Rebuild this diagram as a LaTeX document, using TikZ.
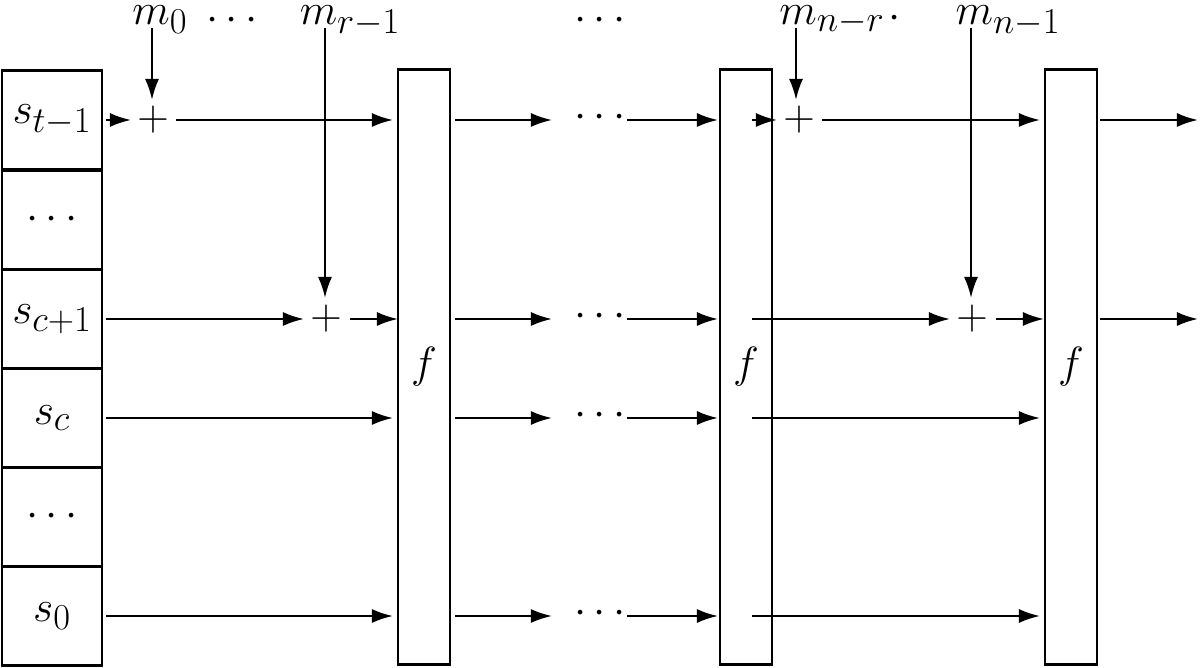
\documentclass[tikz,border=0pt]{standalone}
\usetikzlibrary{arrows.meta}
\begin{document}
\begin{tikzpicture}[x=0.02cm,y=-0.02cm,line width=1.3pt,
  font=\fontsize{31}{36}\selectfont,
  arr/.style={-{Latex[length=12pt,width=8pt]}},
  cell/.style={draw,minimum width=2cm,minimum height=1.986cm,inner sep=0pt,line width=1.5pt},
  fbox/.style={draw,minimum width=1.04cm,minimum height=11.9cm,inner sep=0pt,line width=1.3pt},
  lab/.style={anchor=base,inner sep=0pt},
  plus/.style={inner sep=0pt}]
\useasboundingbox (0,0) rectangle (1200,668);
\foreach \y/\n/\t in {120/s5/$s_{t-1}$,220/s4/$\cdots$,319/s3/$s_{c+1}$,418/s2/$s_c$,517/s1/$\cdots$,616/s0/$s_0$}
  \node[cell] (\n) at (52,\y) {\t};
\node[fbox] (f1) at (424,367) {$f$};
\node[fbox] (f2) at (746,367) {$f$};
\node[fbox] (f3) at (1071,367) {$f$};
% top labels
\node[lab] (m0) at (160,25) {$m_0$};
\node[lab] (d1) at (232,31) {$\cdots$};
\node[lab] (mr) at (350,25) {$m_{r-1}$};
\node[lab] (d2) at (600,31) {$\cdots$};
\node[lab] (mn) at (832,25) {$m_{n-r}$};
\node[lab] (d3) at (895,29) {$\cdot$};
\node[lab] (mn1) at (1008,25) {$m_{n-1}$};
% plus nodes
\node[plus] (p1) at (153,120) {$+$};
\node[plus] (p2) at (326,319) {$+$};
\node[plus] (p3) at (799,120) {$+$};
\node[plus] (p4) at (972,319) {$+$};
% verticals
\draw[arr] (152,28) -- (152,100);
\draw[arr] (325,28) -- (325,298);
\draw[arr] (796,28) -- (796,100);
\draw[arr] (971,28) -- (971,298);
% row t-1
\draw[arr] (106,120) -- (131,120);
\draw[arr] (176,120) -- (393,120);
\draw[arr] (455,120) -- (552,120);
\node at (600,118) {$\cdots$};
\draw[arr] (627,120) -- (718,120);
\draw[arr] (752,120) -- (777,120);
\draw[arr] (822,120) -- (1040,120);
\draw[arr] (1100,120) -- (1198,120);
% row c+1
\draw[arr] (106,319) -- (304,319);
\draw[arr] (350,319) -- (398,319);
\draw[arr] (455,319) -- (552,319);
\node at (600,317) {$\cdots$};
\draw[arr] (627,319) -- (718,319);
\draw[arr] (752,319) -- (950,319);
\draw[arr] (996,319) -- (1044,319);
\draw[arr] (1100,319) -- (1198,319);
% rows c and 0
\foreach \y in {418,616}{
\draw[arr] (106,\y) -- (393,\y);
\draw[arr] (455,\y) -- (552,\y);
\node at (600,\y-2) {$\cdots$};
\draw[arr] (627,\y) -- (718,\y);
\draw[arr] (752,\y) -- (1040,\y);
}
\end{tikzpicture}
\end{document}
